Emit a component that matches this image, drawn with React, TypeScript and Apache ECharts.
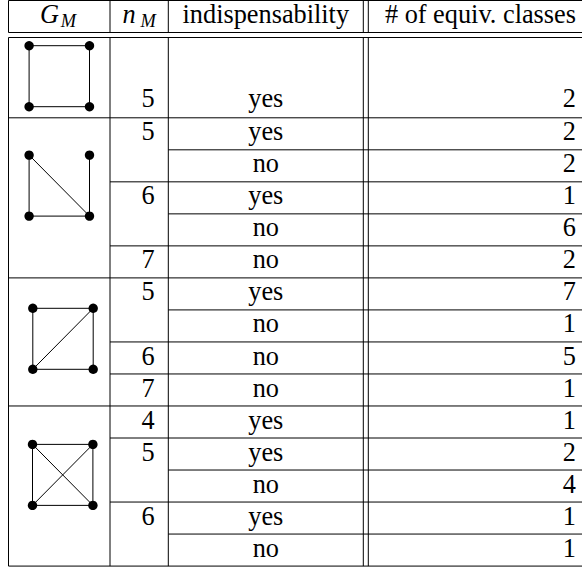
import React, { useEffect, useRef } from "react";
import * as echarts from "echarts";

// ---------------- data ----------------
// vertices of each pictogram: 0 = top-left, 1 = top-right, 2 = bottom-left, 3 = bottom-right
const graphEdges: number[][][] = [
  [[0, 1], [0, 2], [2, 3], [1, 3]],
  [[0, 2], [2, 3], [1, 3], [0, 3]],
  [[0, 1], [0, 2], [2, 3], [1, 3], [2, 1]],
  [[0, 1], [0, 2], [2, 3], [1, 3], [0, 3], [1, 2]],
];
const headerMain = ["G", "n"];
const headerSub = ["M", "M"];
const headerText = ["indispensability", "# of equiv. classes"];
const rowGraph = [0, 1, 1, 1, 1, 1, 2, 2, 2, 2, 3, 3, 3, 3, 3];
const rowN: (number | null)[] = [5, 5, null, 6, null, 7, 5, null, 6, 7, 4, 5, null, 6, null];
const rowIndisp = ["yes", "yes", "no", "yes", "no", "no", "yes", "no", "no", "no", "yes", "yes", "no", "yes", "no"];
const rowClasses = [2, 2, 2, 1, 6, 2, 7, 1, 5, 1, 1, 2, 4, 1, 1];

// ---------------- layout ----------------
const W = 582;
const H = 570;
const FS = 26.3;
const SUB = 18.4;
const FONT = "Liberation Serif";
const X_LEFT = 8.5;
const X_C1 = 110;
const X_C2 = 168.3;
const X_D1 = 363.3;
const X_D2 = 368.3;
const X_RIGHT = 587;
const Y_TOP = 0.5;
const Y_HEAD = 32.5;
const Y_HEAD2 = 37.5;
const Y_ROW1 = 117.8;
const ROW_H = 32.02;
const CENTRAL = 0.3375; // central baseline offset (em) above alphabetic baseline

const picOffsetY = [38.7, 67.8, 60.9, 68.9];
const picCenterX = [59.3, 59.3, 63, 62.7];
const PIC_HW = 30.2;
const PIC_HH = 30.5;
const DOT_R = 4.7;

const FONT_CSS =
  ".tbl-chart svg text, .tbl-chart svg tspan { font-family: 'Liberation Serif', 'Times New Roman', Tinos, 'DejaVu Serif', serif !important; }";

const rowTop = (i: number) => (i === 0 ? Y_HEAD2 : Y_ROW1 + (i - 1) * ROW_H);
const rowBottom = (i: number) => Y_ROW1 + i * ROW_H;
const rowBaseline = (i: number) => (i === 0 ? 107.2 : rowTop(i) + 22.9);

function buildGraphics() {
  const els: any[] = [];
  const stroke = "#000";
  const hline = (x1: number, x2: number, y: number) =>
    els.push({ type: "line", shape: { x1, y1: y, x2, y2: y }, style: { stroke, lineWidth: 1 }, silent: true });
  const vline = (x: number, y1: number, y2: number) =>
    els.push({ type: "line", shape: { x1: x, y1, x2: x, y2 }, style: { stroke, lineWidth: 1 }, silent: true });
  const text = (t: string, x: number, baseline: number, align: string, size = FS, italic = false) => {
    const style: any = {
      text: t,
      fill: "#000",
      fontFamily: FONT,
      fontSize: size,
      align,
      verticalAlign: "middle",
    };
    if (italic) style.fontStyle = "italic";
    els.push({ type: "text", x, y: Math.round((baseline - CENTRAL * size) * 10) / 10, silent: true, style });
  };

  const last = rowGraph.length - 1;
  const bottom = rowBottom(last);

  // rules
  hline(X_LEFT, X_RIGHT, Y_TOP);
  hline(X_LEFT, X_RIGHT, Y_HEAD);
  hline(X_LEFT, X_RIGHT, Y_HEAD2);
  rowGraph.forEach((g, i) => {
    const y = rowBottom(i);
    if (i === last || rowGraph[i + 1] !== g) hline(X_LEFT, X_RIGHT, y);
    else if (rowN[i + 1] !== null) hline(X_C1, X_RIGHT, y);
    else hline(X_C2, X_RIGHT, y);
  });
  [X_LEFT, X_C1, X_C2, X_D1, X_D2, X_RIGHT].forEach((x) => {
    vline(x, Y_TOP, Y_HEAD);
    vline(x, Y_HEAD2, bottom);
  });

  // header
  const hb = 23.3;
  text(headerMain[0], 40, hb, "left", FS, true);
  text(headerSub[0], 60.8, hb + 3.4, "left", SUB, true);
  text(headerMain[1], 122.5, hb, "left", FS, true);
  text(headerSub[1], 140.6, hb + 3.4, "left", SUB, true);
  text(headerText[0], (X_C2 + X_D1) / 2, hb, "center");
  text(headerText[1], 576, hb, "right");

  // body
  rowGraph.forEach((_, i) => {
    const b = rowBaseline(i);
    if (rowN[i] !== null) text(String(rowN[i]), 154.6, b, "right");
    text(rowIndisp[i], (X_C2 + X_D1) / 2, b, "center");
    text(String(rowClasses[i]), 576, b, "right");
  });

  // pictograms
  graphEdges.forEach((edges, g) => {
    const first = rowGraph.indexOf(g);
    const cy = rowTop(first) + picOffsetY[g];
    const cx = picCenterX[g];
    const pts = [
      [cx - PIC_HW, cy - PIC_HH],
      [cx + PIC_HW, cy - PIC_HH],
      [cx - PIC_HW, cy + PIC_HH],
      [cx + PIC_HW, cy + PIC_HH],
    ];
    edges.forEach(([a, b]) => {
      els.push({
        type: "line",
        silent: true,
        shape: { x1: pts[a][0], y1: pts[a][1], x2: pts[b][0], y2: pts[b][1] },
        style: { stroke: "#000", lineWidth: 1 },
      });
    });
    pts.forEach(([x, y]) => {
      els.push({ type: "circle", silent: true, shape: { cx: x, cy: y, r: DOT_R }, style: { fill: "#000" } });
    });
  });
  return els;
}

export default function App() {
  const ref = useRef<HTMLDivElement>(null);
  useEffect(() => {
    if (!ref.current) return;
    const chart = echarts.init(ref.current, undefined, { renderer: "svg", width: W, height: H });
    chart.setOption({
      animation: false,
      backgroundColor: "#fff",
      graphic: { elements: buildGraphics() },
    });
    return () => chart.dispose();
  }, []);
  return (
    <>
      <style>{FONT_CSS}</style>
      <div
        ref={ref}
        className="tbl-chart"
        style={{
          position: "absolute",
          left: 0,
          top: 0,
          width: W,
          height: H,
          background: "#fff",
          fontFamily: "'Liberation Serif', serif",
        }}
      />
    </>
  );
}
